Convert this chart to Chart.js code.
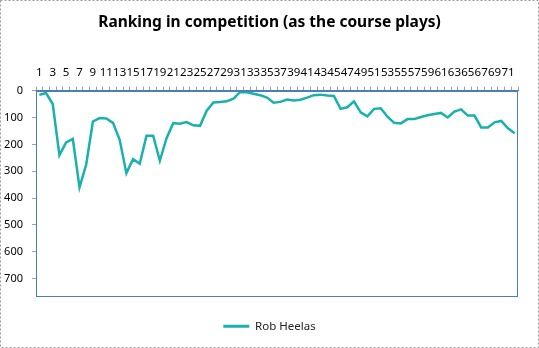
<!DOCTYPE html>
<html><head><meta charset="utf-8">
<style>html,body{margin:0;padding:0;background:#fff}#wrap{width:539px;height:348px;position:relative}</style>
<script src="https://cdn.jsdelivr.net/npm/chart.js@4.4.0/dist/chart.umd.min.js"></script>
</head><body><div id="wrap"><canvas id="c" width="539" height="348"></canvas></div>
<script>
const categories = ['1','2','3','4','5','6','7','8','9','10','11','12','13','14','15','16','17','18','19','20','21','22','23','24','25','26','27','28','29','30','31','32','33','34','35','36','37','38','39','40','41','42','43','44','45','46','47','48','49','50','51','52','53','54','55','56','57','58','59','60','61','62','63','64','65','66','67','68','69','70','71','72'];
const shownTickLabels = ['1','3','5','7','9','11','13','15','17','19','21','23','25','27','29','31','33','35','37','39','41','43','45','47','49','51','53','55','57','59','61','63','65','67','69','71'];
const robHeelas = [16,9,50,240,193,180,360,275,115,102,104,120,183,307,255,272,168,168,261,177,121,123,117,129,131,75,44,42,40,30,5,6,12,17,26,45,42,33,37,34,26,17,15,18,20,68,62,40,81,96,68,66,97,120,122,106,106,98,92,87,83,100,78,70,93,93,137,137,118,113,140,159];
const yTickValues = [0,100,200,300,400,500,600,700];
const yMax = 766;
const TEAL = '#19B1AC';
const AXIS_BLUE = '#4A7EBB';

const frame = {
  id: 'frame',
  beforeDraw(chart) {
    const ctx = chart.ctx;
    ctx.save(); ctx.fillStyle = '#fff'; ctx.fillRect(0, 0, chart.width, chart.height); ctx.restore();
  },
  afterDraw(chart) {
    const ctx = chart.ctx, a = chart.chartArea;
    ctx.save();
    ctx.strokeStyle = AXIS_BLUE; ctx.lineWidth = 1;
    ctx.strokeRect(Math.round(a.left) + 0.5, Math.round(a.top) + 0.5, Math.round(a.right - a.left) - 1, Math.round(a.bottom - a.top) - 1);
    ctx.strokeStyle = '#9a9a9a'; ctx.setLineDash([2, 2]);
    ctx.strokeRect(0.5, 0.5, chart.width - 1, chart.height - 1);
    ctx.restore();
  }
};

new Chart(document.getElementById('c'), {
  type: 'line',
  data: {
    labels: categories,
    datasets: [{ label: 'Rob Heelas', data: robHeelas, borderColor: TEAL, backgroundColor: TEAL, borderWidth: 2.5, pointRadius: 0, tension: 0, fill: false }]
  },
  options: {
    responsive: false, animation: false, devicePixelRatio: 1,
    layout: { padding: { left: 0, right: 0, top: 0, bottom: 6 } },
    plugins: {
      title: { display: true, text: 'Ranking in competition (as the course plays)', color: '#000',
        font: { family: 'Noto Sans', size: 15.5, weight: 'bold', lineHeight: 1.2 }, padding: { top: 13, bottom: 0 } },
      legend: { position: 'bottom', labels: { boxWidth: 26, boxHeight: 3, color: '#222', padding: 10,
        font: { family: 'Noto Sans', size: 11.5 },
        generateLabels(chart) {
          const items = Chart.defaults.plugins.legend.labels.generateLabels(chart);
          items.forEach(i => { i.lineWidth = 0; i.fillStyle = TEAL; });
          return items;
        } } },
      tooltip: { enabled: false }
    },
    scales: {
      x: { type: 'category', position: 'top', offset: true,
        grid: { display: true, drawOnChartArea: false, offset: true, tickLength: 4, color: '#a0a0a0' },
        border: { display: true, color: AXIS_BLUE },
        ticks: { autoSkip: false, maxRotation: 0, minRotation: 0, padding: 7, color: '#000',
          font: { family: 'Noto Sans', size: 11.5 },
          callback(v) { const l = this.getLabelForValue(v); return shownTickLabels.includes(l) ? l : ''; } },
        afterFit(s) { s.height = 59; } },
      y: { type: 'linear', reverse: true, min: 0, max: yMax,
        afterBuildTicks(s) { s.ticks = yTickValues.map(v => ({ value: v })); },
        grid: { drawOnChartArea: false, tickLength: 4, color: '#a0a0a0' },
        border: { color: AXIS_BLUE },
        ticks: { padding: 9, color: '#000', font: { family: 'Noto Sans', size: 11 } },
        afterFit(s) { s.width = 36; } },
      y2: { type: 'linear', position: 'right', display: true,
        grid: { display: false }, border: { display: false }, ticks: { display: false },
        afterFit(s) { s.width = 21; } },
      x2: { type: 'linear', position: 'bottom', display: true,
        grid: { display: false }, border: { display: false }, ticks: { display: false },
        afterFit(s) { s.height = 14; } }
    }
  },
  plugins: [frame]
});
</script>
</body></html>
